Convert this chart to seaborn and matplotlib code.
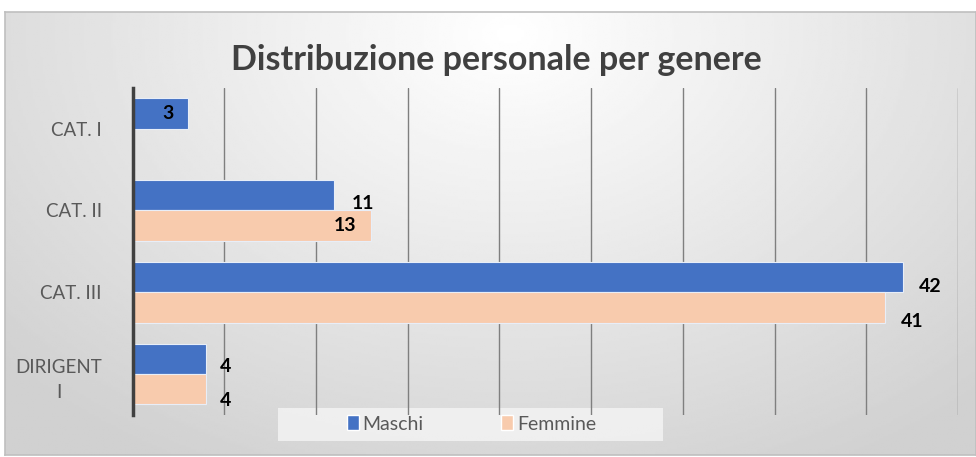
import numpy as np
import pandas as pd
import matplotlib.pyplot as plt
import seaborn as sns

categorie = ["CAT. I", "CAT. II", "CAT. III", "DIRIGENT\nI"]
serie = ["Maschi", "Femmine"]
maschi = [3, 11, 42, 4]
femmine = [0, 13, 41, 4]

df = pd.DataFrame({
    "categoria": categorie * 2,
    "genere": [serie[0]] * len(categorie) + [serie[1]] * len(categorie),
    "valore": maschi + femmine,
})

colori = {"Maschi": "#4472C4", "Femmine": "#F8CBAD"}

# label offsets in pixels (Excel-style placement), ha
label_pos = {
    ("Maschi", 0): (-14, 0, "right"),
    ("Maschi", 1): (17, -8, "left"),
    ("Maschi", 2): (16, -9, "left"),
    ("Maschi", 3): (14, -8, "left"),
    ("Femmine", 1): (-15, 0, "right"),
    ("Femmine", 2): (16, -14, "left"),
    ("Femmine", 3): (14, -11, "left"),
}

sns.set_style("white")
plt.rcParams["font.family"] = ["Lato", "DejaVu Sans"]

fig = plt.figure(figsize=(9.76, 4.57), dpi=100)
fig.patch.set_facecolor("white")

# chart area background with soft radial gradient
bg = fig.add_axes([0.005, 0.004, 0.995, 0.970])
yy, xx = np.mgrid[0:1:200j, 0:1:400j]
r = np.sqrt(((xx - 0.52) / 0.7) ** 2 + ((yy - 0.05) / 1.1) ** 2)
grad = np.clip(1 - 0.18 * r, 0.82, 1.0)
bg.imshow(grad, cmap="gray", vmin=0, vmax=1, aspect="auto", extent=[0, 1, 0, 1], origin="upper")
bg.set_xlim(0, 1)
bg.set_ylim(0, 1)
bg.set_xticks([])
bg.set_yticks([])
for s in bg.spines.values():
    s.set_color("#bfbfbf")
    s.set_linewidth(1.2)

# legend background box (drawn under the gridlines, like the original)
bg.add_patch(plt.Rectangle((279 / 976 - 0.005, (457 - 441) / 457 / 0.970 - 0.004),
                           385 / 976 / 0.995, 33 / 457 / 0.970,
                           facecolor="#f3f3f3", edgecolor="none", alpha=0.85,
                           transform=bg.transAxes))

ax = fig.add_axes([0.1358, 0.092, 0.8458, 0.716])
ax.patch.set_alpha(0)

sns.barplot(data=df, y="categoria", x="valore", hue="genere", orient="h",
            palette=colori, saturation=1, width=0.74, edgecolor="#e8eef8", linewidth=0.8,
            ax=ax, legend=False, zorder=3)

ax.set_xlim(0, 45)
ax.set_ylim(3.5, -0.5)
ax.set_xticks(np.arange(5, 46, 5))
ax.xaxis.grid(True, color="#7f7f7f", linewidth=1)
ax.set_axisbelow(True)
ax.tick_params(axis="x", length=0, labelbottom=False)
ax.tick_params(axis="y", length=0, pad=22, labelsize=13.5, labelcolor="#595959")
for lab in ax.get_yticklabels():
    lab.set_multialignment("center")
    lab.set_linespacing(1.6)
ax.set_xlabel("")
ax.set_ylabel("")
for s in ["top", "right", "bottom"]:
    ax.spines[s].set_visible(False)
ax.spines["left"].set_color("#404040")
ax.spines["left"].set_linewidth(2.5)
ax.spines["left"].set_zorder(5)

for container, nome, valori in zip(ax.containers, serie, [maschi, femmine]):
    for i, (bar, v) in enumerate(zip(container, valori)):
        if v == 0:
            continue
        dx, dy, ha = label_pos[(nome, i)]
        yc = bar.get_y() + bar.get_height() / 2
        ax.annotate(str(v), (bar.get_width(), yc), xytext=(dx, dy),
                    textcoords="offset pixels", ha=ha, va="center",
                    fontsize=14, fontweight="bold", color="black", zorder=6)

handles = [plt.Rectangle((0, 0), 1, 1, facecolor=colori[s], edgecolor="white") for s in serie]
leg = fig.legend(handles, serie, loc="center", bbox_to_anchor=(0.483, 0.072), ncol=2,
                 frameon=False, fontsize=14, handlelength=0.6, handleheight=0.8,
                 handletextpad=0.2, columnspacing=4.0, borderpad=0.6)
leg.set_zorder(10)
for t in leg.get_texts():
    t.set_color("#595959")

fig.text(0.509, 0.868, "Distribuzione personale per genere", ha="center", va="center",
         fontsize=24.5, fontweight="bold", color="#404040")

fig.savefig("out.png", dpi=100)
